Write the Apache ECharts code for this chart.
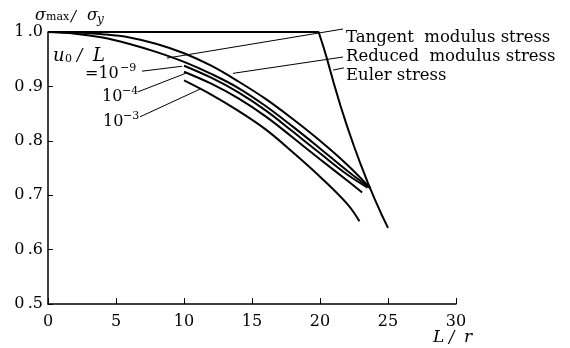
<!DOCTYPE html>
<html><head><meta charset="utf-8">
<script src="https://cdn.jsdelivr.net/npm/echarts@6/dist/echarts.min.js"></script>
<style>html,body{margin:0;padding:0;background:#fff}#c{width:570px;height:348px}</style>
</head><body><div id="c"></div>
<script>
// ---- data ----
const xTicks = [0, 5, 10, 15, 20, 25, 30];
const yTicks = [0.5, 0.6, 0.7, 0.8, 0.9, 1.0];

const eulerX = [0, 19.9, 20.25, 20.5, 21, 21.5, 22, 22.5, 23, 23.5, 24, 24.5, 25];
const eulerY = [1.0, 1.0, 0.973, 0.952, 0.907, 0.865, 0.826, 0.79, 0.756, 0.724, 0.694, 0.666, 0.64];

const reducedX = [0, 2, 4, 6, 8, 10, 12, 14, 16, 18, 20, 22, 23.7];
const reducedY = [1.0, 0.999, 0.996, 0.99, 0.978, 0.961, 0.938, 0.909, 0.877, 0.84, 0.8, 0.756, 0.713];

const tangentX = [0, 2, 4, 6, 8, 10, 12, 14, 16, 18, 20, 22, 23.7];
const tangentY = [1.0, 0.997, 0.99, 0.978, 0.963, 0.945, 0.923, 0.897, 0.864, 0.826, 0.786, 0.745, 0.713];

const u9X = [10, 12, 14, 16, 18, 20, 22, 23.5];
const u9Y = [0.938, 0.916, 0.889, 0.856, 0.817, 0.777, 0.738, 0.714];

const u4X = [10, 12, 14, 16, 18, 20, 22, 23.1];
const u4Y = [0.927, 0.905, 0.878, 0.845, 0.806, 0.766, 0.727, 0.705];

const u3X = [10, 12, 14, 16, 18, 20, 22, 22.9];
const u3Y = [0.911, 0.885, 0.855, 0.821, 0.779, 0.734, 0.684, 0.652];

// leader lines (data coordinates)
const leaderTangent = [[21.69, 1.0055], [8.75, 0.952]];
const leaderReduced = [[21.69, 0.954], [13.6, 0.924]];
const leaderEuler = [[20.96, 0.930], [21.76, 0.934]];
const leader9 = [[6.91, 0.928], [9.85, 0.937]];
const leader4 = [[6.62, 0.890], [10.22, 0.925]];
const leader3 = [[6.76, 0.844], [11.18, 0.895]];

const zip = (xs, ys) => xs.map((x, i) => [x, ys[i]]);

const SERIF = 'DejaVu Serif';
const chart = echarts.init(document.getElementById('c'), null, {renderer: 'canvas'});

function curve(name, data, smooth) {
  return {name, type: 'line', data, smooth: smooth, symbol: 'none', clip: false,
    lineStyle: {color: '#000', width: 2}, z: 3};
}
function leader(data) {
  return {type: 'line', data, symbol: 'none', clip: false, silent: true,
    lineStyle: {color: '#000', width: 1}, z: 2};
}

// x, baseline y
function txt(x, base, text, size, italic) {
  return {type: 'text', x, y: Math.round(base - 0.8 * size),
    style: {text, font: (italic ? 'italic ' : '') + size + 'px "' + SERIF + '"',
      fill: '#000', verticalAlign: 'top', align: 'left'}};
}

chart.setOption({
  animation: false,
  grid: {left: 48, right: 114, top: 32, bottom: 44},
  xAxis: {
    type: 'value', min: 0, max: 30, interval: 5,
    axisLine: {show: true, lineStyle: {color: '#000', width: 1.5}},
    axisTick: {show: true, inside: true, length: 6, lineStyle: {color: '#000', width: 1}},
    splitLine: {show: false},
    axisLabel: {color: '#000', fontFamily: SERIF, fontSize: 16, margin: 10,
      formatter: v => xTicks.includes(v) ? String(v) : ''}
  },
  yAxis: {
    type: 'value', min: 0.5, max: 1.0, interval: 0.1,
    axisLine: {show: true, lineStyle: {color: '#000', width: 1.5}},
    axisTick: {show: true, inside: true, length: 5, lineStyle: {color: '#000', width: 1}},
    splitLine: {show: false},
    axisLabel: {color: '#000', fontFamily: SERIF, fontSize: 16, margin: 5,
      formatter: v => {
        const t = yTicks.find(k => Math.abs(k - v) < 1e-6);
        return t === undefined ? '' : t.toFixed(1).replace('.', '\u2009.');
      }}
  },
  series: [
    curve('Euler stress', zip(eulerX, eulerY), false),
    curve('Reduced modulus stress', zip(reducedX, reducedY), 0.4),
    curve('Tangent modulus stress', zip(tangentX, tangentY), 0.4),
    curve('u0/L=1e-9', zip(u9X, u9Y), 0.4),
    curve('u0/L=1e-4', zip(u4X, u4Y), 0.4),
    curve('u0/L=1e-3', zip(u3X, u3Y), 0.4),
    leader(leaderTangent), leader(leaderReduced), leader(leaderEuler),
    leader(leader9), leader(leader4), leader(leader3)
  ],
  graphic: [
    // right side labels
    txt(346, 42, 'Tangent  modulus stress', 16.5),
    txt(346, 61, 'Reduced  modulus stress', 16.5),
    txt(346, 80, 'Euler stress', 16.5),
    // y axis name  (sigma_max / sigma_y)
    txt(35, 21, '\u03c3', 16, true),
    txt(46, 21, 'max', 11),
    txt(71, 22, '/', 15, true),
    txt(87, 21, '\u03c3', 16, true),
    txt(97, 24, 'y', 12, true),
    // x axis name  L / r
    txt(433, 343, 'L', 17, true),
    txt(449, 343, '/', 16, true),
    txt(464, 343, 'r', 17, true),
    // u0 / L
    txt(53, 61, 'u', 18, true),
    txt(65, 63, '0', 11),
    txt(77, 61, '/', 16, true),
    txt(93, 61, 'L', 18, true),
    // exponents
    txt(85, 79, '=10', 16),
    txt(120, 72, '\u22129', 11),
    txt(102, 102, '10', 16),
    txt(122, 95, '\u22124', 11),
    txt(103, 127, '10', 16),
    txt(123, 120, '\u22123', 11)
  ]
});
</script></body></html>
